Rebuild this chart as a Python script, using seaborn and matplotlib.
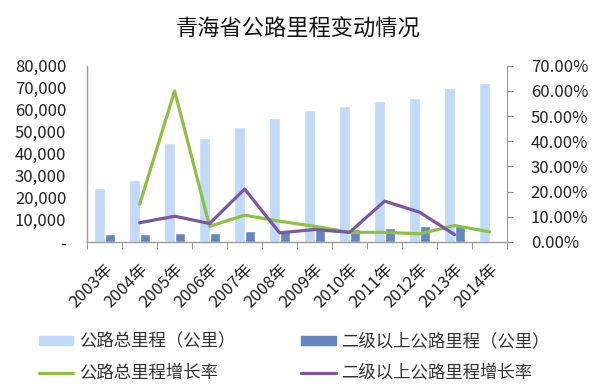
import numpy as np
import pandas as pd
import matplotlib
matplotlib.use('Agg')
import matplotlib.pyplot as plt
import matplotlib.patches as mpatches
import matplotlib.lines as mlines
from matplotlib.ticker import FuncFormatter
import seaborn as sns

# 数据
years = ['2003年', '2004年', '2005年', '2006年', '2007年', '2008年',
         '2009年', '2010年', '2011年', '2012年', '2013年', '2014年']
total_km = [24500, 27900, 44700, 47400, 52400, 56400,
            59700, 61800, 64100, 65500, 70000, 72300]
grade2_km = [3500, 3550, 3950, 4200, 4900, 5500,
             5600, 5700, 6400, 7300, 7400, np.nan]
total_growth = [np.nan, 14.9, 60.0, 6.2, 10.6, 8.2,
                6.2, 3.8, 3.8, 3.2, 6.5, 4.0]
grade2_growth = [np.nan, 7.6, 10.2, 7.3, 21.0, 3.6,
                 4.9, 3.8, 16.2, 11.8, 2.9, np.nan]

name_total = '公路总里程（公里）'
name_g2 = '二级以上公路里程（公里）'
name_tg = '公路总里程增长率'
name_g2g = '二级以上公路里程增长率'

sns.set_style('white')
plt.rcParams['font.family'] = ['Noto Sans CJK SC', 'DejaVu Sans']

bars = pd.DataFrame({'年份': years * 2,
                     '里程': total_km + grade2_km,
                     '类别': [name_total] * 12 + [name_g2] * 12})

c_light = '#c2d9f7'
c_dark = '#6586bf'
c_green = '#8fc044'
c_purple = '#7a58a0'

fig = plt.figure(figsize=(5.93, 3.87), dpi=100)
ax = fig.add_axes([0.147, 0.375, 0.708, 0.455])
sns.barplot(data=bars, x='年份', y='里程', hue='类别', order=years,
            palette=[c_light, c_dark], width=0.6, ax=ax, legend=False,
            saturation=1)
ax.set_ylim(0, 80000)
ax.set_xlim(-0.5, 11.5)
ax.set_yticks(range(0, 80001, 10000))
ax.yaxis.set_major_formatter(FuncFormatter(lambda v, p: '-' if v == 0 else f'{int(v):,}'))
ax.set_xlabel('')
ax.set_ylabel('')
ax.set_xticks(np.arange(-0.5, 12, 1), minor=True)
ax.tick_params(axis='x', which='minor', length=5, color='#888888', direction='out', bottom=True)
ax.tick_params(axis='x', which='major', length=0, labelsize=12, pad=14, colors='#222222')
ax.tick_params(axis='y', length=0, labelsize=12, pad=15, colors='#222222')
plt.setp(ax.get_xticklabels(), rotation=45, ha='right', rotation_mode='anchor')
for s in ['top', 'right']:
    ax.spines[s].set_visible(False)
for s in ['left', 'bottom']:
    ax.spines[s].set_color('#9a9a9a')
    ax.spines[s].set_linewidth(1)

ax2 = ax.twinx()
pos = np.arange(len(years))
sns.lineplot(x=pos, y=total_growth, color=c_green, linewidth=2.3, ax=ax2)
sns.lineplot(x=pos, y=grade2_growth, color=c_purple, linewidth=2.3, ax=ax2)
ax2.set_ylim(0, 70)
ax2.set_yticks(range(0, 71, 10))
ax2.yaxis.set_major_formatter(FuncFormatter(lambda v, p: f'{v:.2f}%'))
ax2.tick_params(axis='y', length=4, color='#888888', direction='out', labelsize=12,
                pad=13, labelcolor='#222222')
for s in ['top', 'left', 'bottom']:
    ax2.spines[s].set_visible(False)
ax2.spines['right'].set_color('#9a9a9a')
ax2.set_xlim(-0.5, 11.5)

fig.text(0.502, 0.925, '青海省公路里程变动情况', ha='center', va='center',
         fontsize=16, color='#111111')

handles = [mpatches.Patch(color=c_light, label=name_total),
           mlines.Line2D([], [], color=c_green, linewidth=2.3, label=name_tg),
           mpatches.Patch(color=c_dark, label=name_g2),
           mlines.Line2D([], [], color=c_purple, linewidth=2.3, label=name_g2g)]
fig.legend(handles=handles, ncol=2, loc='center', bbox_to_anchor=(0.496, 0.077),
           frameon=False, fontsize=12.5, handlelength=2.0, handleheight=0.35,
           columnspacing=3.8, labelspacing=0.75, handletextpad=0.3,
           labelcolor='#333333')

fig.savefig('out.png', dpi=100)
